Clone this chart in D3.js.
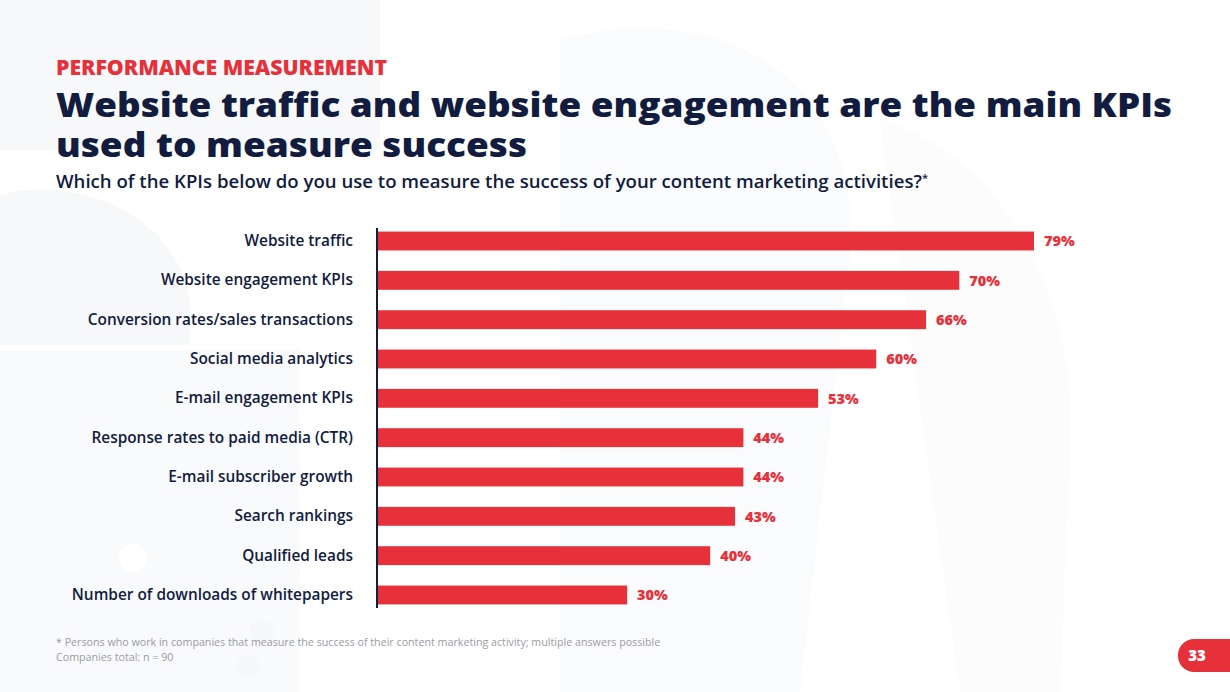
<!DOCTYPE html>
<html><head><meta charset="utf-8">
<script src="https://cdn.jsdelivr.net/npm/d3@7"></script>
<style>
html,body{margin:0;padding:0;background:#fff;}
svg{display:block;font-family:"Open Sans",sans-serif;}
</style></head>
<body>
<svg id="chart" width="1230" height="692"></svg>
<script>
const categories = ["Website traffic","Website engagement KPIs","Conversion rates/sales transactions","Social media analytics","E-mail engagement KPIs","Response rates to paid media (CTR)","E-mail subscriber growth","Search rankings","Qualified leads","Number of downloads of whitepapers"];
const values = [79,70,66,60,53,44,44,43,40,30];
const valueLabels = ["79%","70%","66%","60%","53%","44%","44%","43%","40%","30%"];

const RED = "#e6303a", NAVY = "#111c3f";
const svg = d3.select("#chart");

// faint background shapes
const bg = svg.append("g").attr("fill","#f5f6f8");
bg.append("rect").attr("x",0).attr("y",0).attr("width",380).attr("height",150).attr("opacity",0.8);
bg.append("path").attr("d","M0,195 C70,175 175,210 190,300 L190,345 L0,345 Z").attr("opacity",0.8);
bg.append("path").attr("d","M0,350 L300,350 L300,692 L0,692 Z").attr("opacity",0.6);
bg.append("path").attr("d","M560,40 C700,0 860,60 850,250 L800,692 L560,692 Z").attr("opacity",0.45);
bg.append("path").attr("d","M880,120 C1000,150 1080,300 1070,450 L1060,692 L960,692 Z").attr("opacity",0.3);
bg.append("circle").attr("cx",133).attr("cy",558).attr("r",14).attr("fill","#fff");
bg.append("circle").attr("cx",262).attr("cy",632).attr("r",12).attr("opacity",0.8);
bg.append("circle").attr("cx",248).attr("cy",667).attr("r",12).attr("opacity",0.8);

// headings
svg.append("text").attr("x",56).attr("y",75).attr("fill",RED)
  .style("font-size","21px").style("font-weight",800)
  .attr("textLength",331).attr("lengthAdjust","spacingAndGlyphs")
  .text("PERFORMANCE MEASUREMENT");
svg.append("text").attr("x",56).attr("y",117).attr("fill",NAVY)
  .style("font-size","33.5px").style("font-weight",800)
  .attr("textLength",1116).attr("lengthAdjust","spacingAndGlyphs")
  .text("Website traffic and website engagement are the main KPIs");
svg.append("text").attr("x",56).attr("y",157).attr("fill",NAVY)
  .style("font-size","33.5px").style("font-weight",800)
  .attr("textLength",471).attr("lengthAdjust","spacingAndGlyphs")
  .text("used to measure success");
const sub = svg.append("text").attr("x",56).attr("y",188).attr("fill",NAVY)
  .style("font-size","18.6px").style("font-weight",600);
sub.append("tspan").text("Which of the KPIs below do you use to measure the success of your content marketing activities?");
sub.append("tspan").attr("dy",-6).style("font-size","11px").text("*");

// chart
const x = d3.scaleLinear().domain([0,79]).range([378,1034]);
const y = d3.scaleBand().domain(categories).range([221.35,614.65]).paddingInner(0.52).paddingOuter(0.26);

svg.append("g").selectAll("rect").data(categories).join("rect")
  .attr("x",x(0)).attr("y",d=>y(d)).attr("width",(d,i)=>x(values[i])-x(0))
  .attr("height",y.bandwidth()).attr("fill",RED);

svg.append("g").selectAll("text").data(categories).join("text")
  .attr("x",(d,i)=>x(values[i])+10).attr("y",d=>y(d)+y.bandwidth()/2)
  .attr("dy","0.36em").attr("fill",RED)
  .style("font-size","14.5px").style("font-weight",800)
  .text((d,i)=>valueLabels[i]);

const yAxis = svg.append("g").attr("transform","translate(377,0)")
  .call(d3.axisLeft(y).tickSize(0).tickPadding(24));
yAxis.select(".domain").attr("stroke",NAVY).attr("stroke-width",2)
  .attr("d","M0,228V608");
yAxis.selectAll("text").attr("fill",NAVY)
  .style("font-family","'Open Sans',sans-serif").style("font-size","15.4px").style("font-weight",600);

// footnotes
svg.append("text").attr("x",56).attr("y",646).attr("fill","#9a9ca3")
  .style("font-size","10.7px").text("* Persons who work in companies that measure the success of their content marketing activity; multiple answers possible");
svg.append("text").attr("x",56).attr("y",661).attr("fill","#9a9ca3")
  .style("font-size","10.7px").text("Companies total: n = 90");

// page badge
svg.append("rect").attr("x",1178).attr("y",639).attr("width",70).attr("height",33).attr("rx",16).attr("fill",RED);
svg.append("text").attr("x",1197).attr("y",656).attr("dy","0.35em").attr("text-anchor","middle")
  .attr("fill","#fff").style("font-size","15px").style("font-weight",800).text("33");
</script>
</body></html>
